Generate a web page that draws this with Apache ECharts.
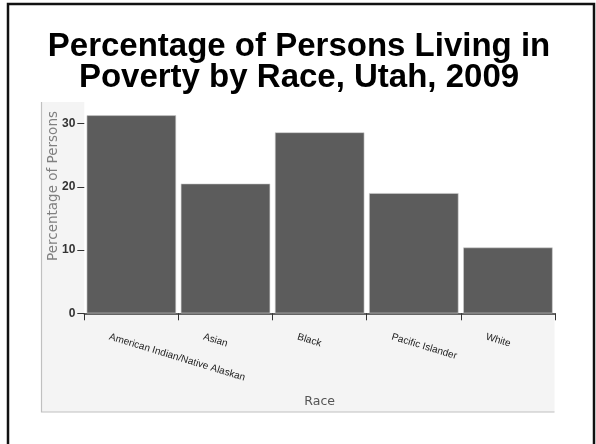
<!DOCTYPE html>
<html>
<head>
<meta charset="utf-8">
<script src="https://cdn.jsdelivr.net/npm/echarts@6/dist/echarts.min.js"></script>
<style>
html,body{margin:0;padding:0;background:#fff;}
#c{width:596px;height:444px;}
</style>
</head>
<body>
<div id="c"></div>
<script>
const titleLines = ['Percentage of Persons Living in', 'Poverty by Race, Utah, 2009'];
const categories = ['American Indian/Native Alaskan', 'Asian', 'Black', 'Pacific Islander', 'White'];
const values = [31.3, 20.5, 28.6, 19.0, 10.4];
const yTicks = [0, 10, 20, 30];
const yAxisName = 'Percentage of Persons';
const xAxisName = 'Race';

const chart = echarts.init(document.getElementById('c'), null, {renderer: 'canvas'});
chart.setOption({
  animation: false,
  backgroundColor: '#fff',
  graphic: [
    {type: 'rect', shape: {x: 8, y: 4, width: 586, height: 450}, style: {fill: 'none', stroke: '#111', lineWidth: 2.5}, z: 0},
    {type: 'rect', shape: {x: 41.5, y: 102, width: 513, height: 310}, style: {fill: '#f4f4f4'}, z: -1},
    {type: 'polyline', shape: {points: [[41.5, 102], [41.5, 412], [554.5, 412]]}, style: {fill: 'none', stroke: '#c0c0c0', lineWidth: 1.2}, z: -1},
    {type: 'text', x: 299, y: 47, style: {text: titleLines[0], font: 'bold 33px "Liberation Sans", Arial, sans-serif', fill: '#000', align: 'center', verticalAlign: 'middle'}},
    {type: 'text', x: 299, y: 78, style: {text: titleLines[1], font: 'bold 33px "Liberation Sans", Arial, sans-serif', fill: '#000', align: 'center', verticalAlign: 'middle'}},
    {type: 'text', x: 53, y: 186, rotation: Math.PI / 2, style: {text: yAxisName, font: '13.5px "DejaVu Sans", sans-serif', fill: '#808080', align: 'center', verticalAlign: 'middle'}}
  ],
  grid: {left: 84.3, right: 41, top: 102, bottom: 130.7, show: true, backgroundColor: '#fff', borderWidth: 0, containLabel: false},
  xAxis: {
    type: 'category',
    data: categories,
    name: xAxisName,
    nameLocation: 'middle',
    nameGap: 82,
    nameTextStyle: {color: '#555', fontSize: 12.5, fontFamily: '"DejaVu Sans", sans-serif'},
    axisLine: {show: true, lineStyle: {color: '#333', width: 1.5}},
    axisTick: {show: true, length: 7, lineStyle: {color: '#333'}},
    axisLabel: {rotate: -17, color: '#222', fontSize: 10, fontFamily: '"Liberation Sans", Arial, sans-serif', margin: 30, padding: [0, 0, 0, -23], interval: 0}
  },
  yAxis: {
    type: 'value',
    min: 0,
    max: 33.4,
    interval: 10,
    axisLine: {show: false},
    axisTick: {show: true, length: 7, lineStyle: {color: '#333'}, customValues: yTicks},
    axisLabel: {color: '#333', fontSize: 12, fontWeight: 'bold', fontFamily: '"Liberation Sans", Arial, sans-serif', margin: 9, customValues: yTicks},
    splitLine: {show: false}
  },
  series: [{
    type: 'bar',
    data: values,
    barCategoryGap: '5%',
    itemStyle: {color: '#5c5c5c', borderColor: '#cfcfcf', borderWidth: 0.6},
    z: 2
  }]
});
</script>
</body>
</html>
